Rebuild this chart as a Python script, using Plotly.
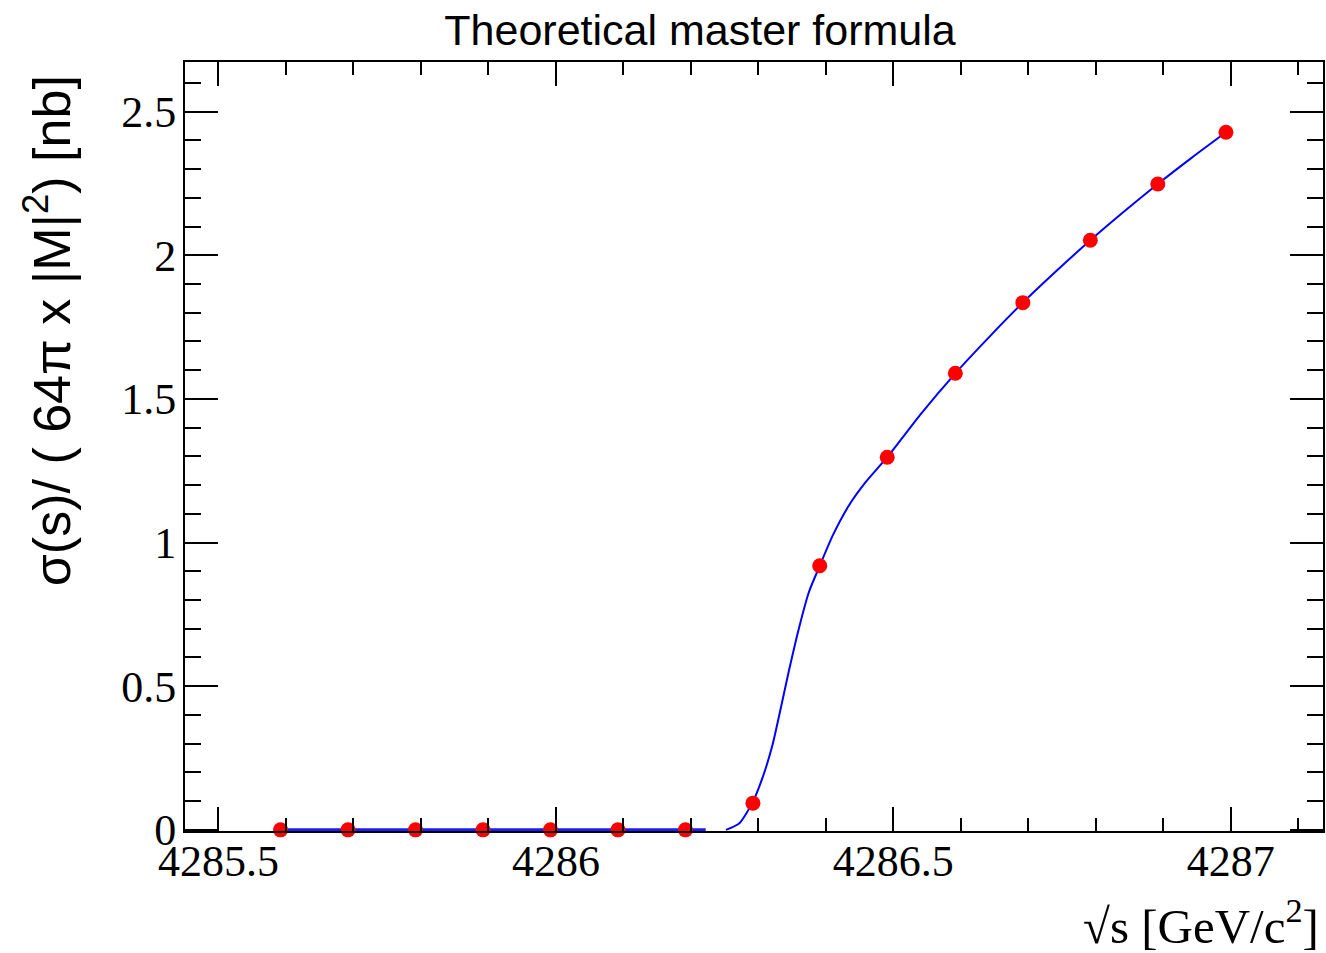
import plotly.graph_objects as go

# Data points (red markers)
x_pts = [4285.592, 4285.692, 4285.792, 4285.892, 4285.992, 4286.092, 4286.192,
         4286.292, 4286.391, 4286.491, 4286.592, 4286.692, 4286.792, 4286.892, 4286.993]
y_pts = [0.0, 0.0, 0.0, 0.0, 0.0, 0.0, 0.0,
         0.093, 0.919, 1.297, 1.589, 1.835, 2.052, 2.248, 2.428]

# Blue theoretical curve: flat part (zero) and rising part
x_flat = [4285.592, 4286.222]
y_flat = [0.0, 0.0]

x_curve = [4286.252, 4286.272, 4286.291, 4286.306, 4286.321, 4286.331, 4286.345,
           4286.360, 4286.375, 4286.391, 4286.410, 4286.434, 4286.459, 4286.491,
           4286.541, 4286.592, 4286.642, 4286.692, 4286.742, 4286.792, 4286.842,
           4286.892, 4286.942, 4286.993]
y_curve = [0.0, 0.023, 0.093, 0.180, 0.295, 0.399, 0.550,
           0.700, 0.828, 0.919, 1.023, 1.128, 1.210, 1.297,
           1.448, 1.589, 1.715, 1.835, 1.946, 2.052, 2.152,
           2.248, 2.339, 2.428]

x_range = [4285.4504, 4287.1368]
y_range = [-0.004, 2.6726]

title_text = "Theoretical master formula"
y_title = "σ(s)/ ( 64π x |M|<sup>2</sup>) [nb]"
x_title = "√s [GeV/c<sup>2</sup>]"

fig = go.Figure()
fig.add_trace(go.Scatter(x=x_flat, y=y_flat, mode="lines",
                         line=dict(color="#1a1aff", width=3), showlegend=False))
fig.add_trace(go.Scatter(x=x_curve, y=y_curve, mode="lines",
                         line=dict(color="#0000ff", width=2, shape="spline", smoothing=0.6),
                         showlegend=False))
fig.add_trace(go.Scatter(x=x_pts, y=y_pts, mode="markers",
                         marker=dict(color="#ff0000", size=15, line=dict(width=0)),
                         cliponaxis=False, showlegend=False))

serif = "Liberation Serif, Times New Roman, serif"
sans = "Liberation Sans, Arial, Helvetica, sans-serif"

fig.update_layout(
    width=1326, height=953,
    margin=dict(l=185, r=1, t=62, b=122),
    paper_bgcolor="white", plot_bgcolor="white",
    title=dict(text=title_text, x=700/1326, xanchor="center", xref="container",
               y=1 - 30/953, yanchor="middle", yref="container",
               font=dict(family=sans, size=43, color="black")),
    xaxis=dict(range=x_range, showgrid=False, zeroline=False,
               showline=True, linecolor="black", linewidth=2, mirror="allticks",
               ticks="inside", ticklen=24, tickwidth=1.5, tickcolor="black",
               tick0=4285.5, dtick=0.5, tickformat=".1~f",
               minor=dict(dtick=0.1, tick0=4285.5, ticks="inside", ticklen=13,
                          tickwidth=1.5, tickcolor="black", showgrid=False),
               tickfont=dict(family=serif, size=44, color="black"),
               ticklabelstandoff=-10),
    yaxis=dict(range=y_range, showgrid=False, zeroline=False,
               showline=True, linecolor="black", linewidth=2, mirror="allticks",
               ticks="inside", ticklen=33, tickwidth=1.5, tickcolor="black",
               tick0=0, dtick=0.5, tickformat=".1~f",
               minor=dict(dtick=0.1, tick0=0, ticks="inside", ticklen=16,
                          tickwidth=1.5, tickcolor="black", showgrid=False),
               tickfont=dict(family=serif, size=44, color="black"),
               ticklabelstandoff=-2),
    annotations=[
        dict(text=y_title, xref="paper", yref="paper",
             x=(48 - 185) / 1140, y=(831 - 331) / 769, xanchor="center", yanchor="middle",
             textangle=-90, showarrow=False,
             font=dict(family=sans, size=52, color="black")),
        dict(text=x_title, xref="paper", yref="paper",
             x=1 + (1322 - 1325) / 1140, y=-(922 - 831) / 769, xanchor="right", yanchor="middle",
             showarrow=False, borderpad=0,
             font=dict(family=serif, size=49, color="black")),
    ],
)

fig.write_html("out.html")
